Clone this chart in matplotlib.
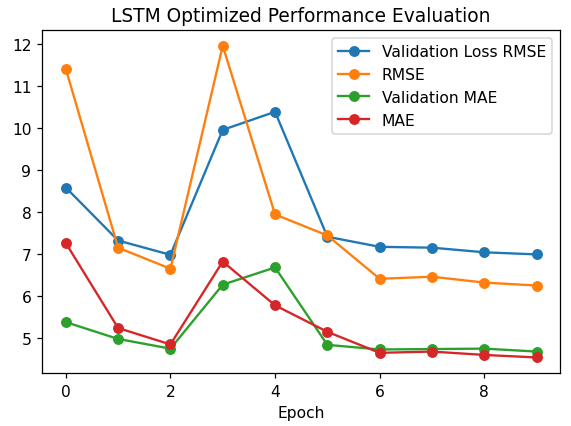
import matplotlib
matplotlib.use("Agg")
import matplotlib.pyplot as plt

epochs = list(range(10))
val_loss_rmse = [8.58, 7.32, 6.98, 9.95, 10.38, 7.41, 7.17, 7.15, 7.04, 6.99]
rmse = [11.40, 7.15, 6.65, 11.95, 7.94, 7.44, 6.41, 6.46, 6.32, 6.25]
val_mae = [5.38, 4.98, 4.75, 6.27, 6.68, 4.84, 4.73, 4.74, 4.75, 4.68]
mae = [7.26, 5.24, 4.85, 6.82, 5.78, 5.15, 4.65, 4.68, 4.60, 4.54]

# bigger text than default, like a scaled-down export
scale = 1.12
fig = plt.figure(figsize=(5.71 / scale, 4.27 / scale), dpi=100 * scale)
plt.plot(epochs, val_loss_rmse, marker="o", label="Validation Loss RMSE")
plt.plot(epochs, rmse, marker="o", label="RMSE")
plt.plot(epochs, val_mae, marker="o", label="Validation MAE")
plt.plot(epochs, mae, marker="o", label="MAE")
plt.title("LSTM Optimized Performance Evaluation")
plt.xlabel("Epoch")
plt.legend()
plt.subplots_adjust(left=0.074, right=0.981, top=0.927, bottom=0.124)
plt.savefig("out.png", dpi=100 * scale)
